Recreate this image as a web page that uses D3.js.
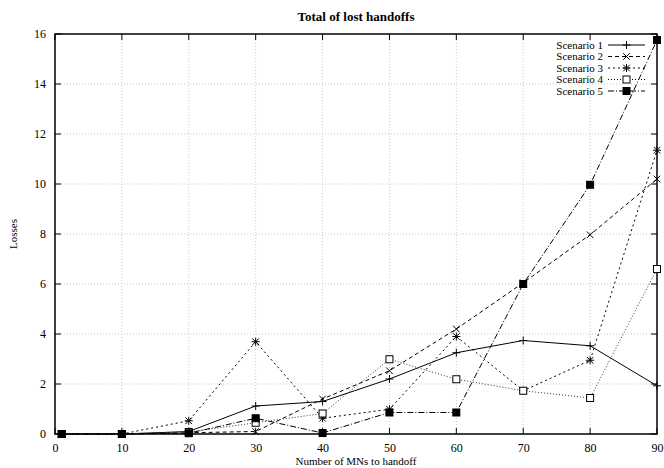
<!DOCTYPE html>
<html><head><meta charset="utf-8">
<script src="https://cdn.jsdelivr.net/npm/d3@7"></script>
<style>body{margin:0;background:#fff}text{font-family:"Liberation Serif","Times New Roman",serif;fill:#000}</style>
</head><body><svg id="c" width="664" height="468"></svg>
<script>
const xValues = [1, 10, 20, 30, 40, 50, 60, 70, 80, 90];
const scenario1 = [0, 0, 0.1, 1.12, 1.3, 2.2, 3.25, 3.74, 3.53, 1.93];
const scenario2 = [0, 0, 0.05, 0.1, 1.4, 2.53, 4.2, 6.05, 7.97, 10.2];
const scenario3 = [0, 0, 0.53, 3.69, 0.63, 0.99, 3.9, 1.73, 2.95, 11.35];
const scenario4 = [0, 0, 0.08, 0.45, 0.82, 2.99, 2.19, 1.73, 1.44, 6.6];
const scenario5 = [0, 0, 0.03, 0.63, 0.04, 0.86, 0.86, 6.0, 9.97, 15.76];
const seriesNames = ["Scenario 1", "Scenario 2", "Scenario 3", "Scenario 4", "Scenario 5"];
const xTicks = [0, 10, 20, 30, 40, 50, 60, 70, 80, 90];
const yTicks = [0, 2, 4, 6, 8, 10, 12, 14, 16];

const series = [scenario1, scenario2, scenario3, scenario4, scenario5];
const dashes = [null, "4,3", "2,3", "1,2", "6,2,1,2"];
const markers = ["plus", "cross", "star", "box", "fbox"];

const svg = d3.select("#c");
const L = 55, R = 657, T = 34, B = 434;
const x = d3.scaleLinear().domain([0, 90]).range([L, R]);
const y = d3.scaleLinear().domain([0, 16]).range([B, T]);

// grid
const g = svg.append("g");
g.selectAll(".gx").data(xTicks.slice(1, -1)).join("line")
  .attr("x1", d => x(d)).attr("x2", d => x(d)).attr("y1", B).attr("y2", T)
  .attr("stroke", "#bbb").attr("stroke-width", 0.8).attr("stroke-dasharray", "1,2");
g.selectAll(".gy").data(yTicks.slice(1, -1)).join("line")
  .attr("y1", d => y(d)).attr("y2", d => y(d)).attr("x1", L).attr("x2", R)
  .attr("stroke", "#bbb").attr("stroke-width", 0.8).attr("stroke-dasharray", "1,2");

// axes with inner ticks
const tl = 6;
const axB = d3.axisBottom(x).tickValues(xTicks).tickSize(0).tickPadding(9);
const axL = d3.axisLeft(y).tickValues(yTicks).tickSize(0).tickPadding(9);
const gb = svg.append("g").attr("transform", `translate(0,${B})`).call(axB);
const gl = svg.append("g").attr("transform", `translate(${L},0)`).call(axL);
[gb, gl].forEach(a => { a.select(".domain").remove(); a.attr("font-family", null); a.selectAll("text").style("font-size", "12px").style("font-family", "Liberation Serif"); });
gb.selectAll("text").attr("dy", "0.71em");

const tk = svg.append("g").attr("stroke", "#000").attr("stroke-width", 1);
xTicks.forEach(v => {
  tk.append("line").attr("x1", x(v)).attr("x2", x(v)).attr("y1", B).attr("y2", B - tl);
  tk.append("line").attr("x1", x(v)).attr("x2", x(v)).attr("y1", T).attr("y2", T + tl);
});
yTicks.forEach(v => {
  tk.append("line").attr("x1", L).attr("x2", L + tl).attr("y1", y(v)).attr("y2", y(v));
  tk.append("line").attr("x1", R).attr("x2", R - tl).attr("y1", y(v)).attr("y2", y(v));
});
svg.append("rect").attr("x", L).attr("y", T).attr("width", R - L).attr("height", B - T)
  .attr("fill", "none").attr("stroke", "#000").attr("stroke-width", 1.5);

function marker(sel, type, cx, cy) {
  const s = 4;
  const p = sel.append("g").attr("transform", `translate(${cx},${cy})`).attr("stroke", "#000").attr("stroke-width", 1);
  if (type === "plus" || type === "star") {
    p.append("line").attr("x1", -s).attr("x2", s).attr("y1", 0).attr("y2", 0);
    p.append("line").attr("x1", 0).attr("x2", 0).attr("y1", -s).attr("y2", s);
  }
  if (type === "cross" || type === "star") {
    const c = 3.3;
    p.append("line").attr("x1", -c).attr("x2", c).attr("y1", -c).attr("y2", c);
    p.append("line").attr("x1", -c).attr("x2", c).attr("y1", c).attr("y2", -c);
  }
  if (type === "box") p.append("rect").attr("x", -3.5).attr("y", -3.5).attr("width", 7).attr("height", 7).attr("fill", "#fff");
  if (type === "fbox") p.append("rect").attr("x", -3.5).attr("y", -3.5).attr("width", 7).attr("height", 7).attr("fill", "#000");
}

const line = d3.line().x((d, i) => x(xValues[i])).y(d => y(d));
series.forEach((s, k) => {
  svg.append("path").datum(s).attr("d", line).attr("fill", "none").attr("stroke", k === 3 ? "#333" : "#000")
    .attr("stroke-width", 1).attr("stroke-dasharray", dashes[k]);
});
series.forEach((s, k) => {
  const mg = svg.append("g");
  s.forEach((v, i) => marker(mg, markers[k], x(xValues[i]), y(v)));
});

// legend
const lg = svg.append("g");
seriesNames.forEach((n, k) => {
  const ly = 45 + k * 11.5;
  lg.append("text").attr("x", 603).attr("y", ly).attr("dy", "0.35em").attr("text-anchor", "end")
    .style("font-size", "11px").text(n);
  lg.append("line").attr("x1", 608).attr("x2", 645).attr("y1", ly).attr("y2", ly)
    .attr("stroke", "#000").attr("stroke-dasharray", dashes[k]);
  marker(lg, markers[k], 626.5, ly);
});

svg.append("text").attr("x", (L + R) / 2).attr("y", 21).attr("text-anchor", "middle")
  .style("font-size", "13px").style("font-weight", "bold").text("Total of lost handoffs");
svg.append("text").attr("x", (L + R) / 2).attr("y", 465).attr("text-anchor", "middle")
  .style("font-size", "11px").text("Number of MNs to handoff");
svg.append("text").attr("transform", `translate(17,${(T + B) / 2}) rotate(-90)`).attr("text-anchor", "middle")
  .style("font-size", "11px").text("Losses");
</script></body></html>
